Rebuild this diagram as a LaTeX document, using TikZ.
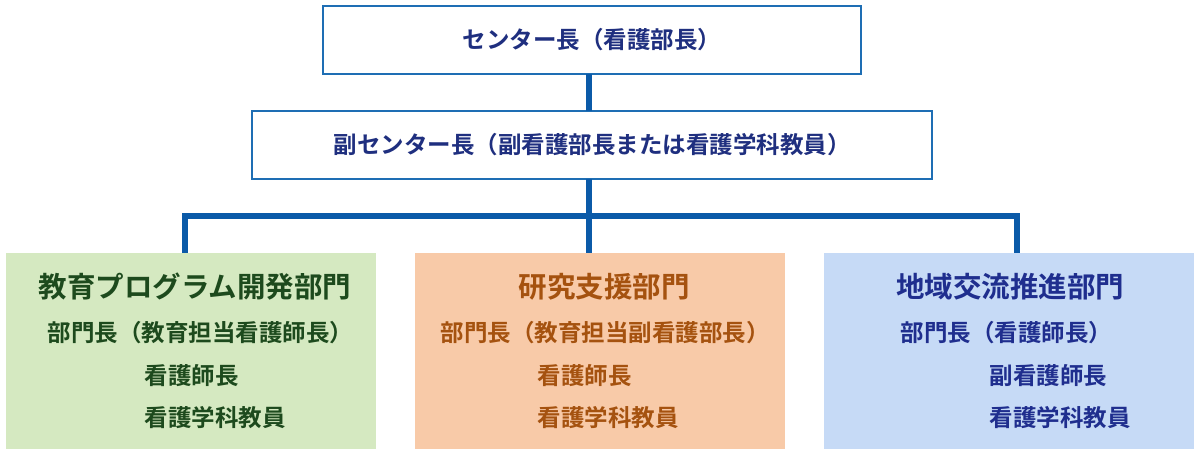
\documentclass[tikz,border=0pt]{standalone}
\usepackage{fontspec}
\setmainfont{Noto Sans CJK JP Bold}
\begin{document}
\begin{tikzpicture}[x=1pt,y=-1pt,
 hbox/.style={draw=boxblue,line width=2.2pt,fill=white},
 conn/.style={draw=lineblue,line width=6pt},
 ttl/.style={font=\fontsize{28.5}{32}\selectfont},
 ln/.style={font=\fontsize{23.5}{26}\selectfont,anchor=west}]
\definecolor{boxblue}{HTML}{1E6EB4}
\definecolor{lineblue}{HTML}{0B5AA8}
\definecolor{navy}{HTML}{1F2F7F}
\definecolor{pg}{HTML}{D5E9C1}\definecolor{tg}{HTML}{1D4A1D}
\definecolor{po}{HTML}{F8CAA8}\definecolor{to}{HTML}{A5520F}
\definecolor{pb}{HTML}{C6DAF6}\definecolor{tb}{HTML}{1F2E8E}
\useasboundingbox (0,0) rectangle (1200,453);
\coordinate (j1) at (185,216); \coordinate (j2) at (589,216); \coordinate (j3) at (1017,216);
\coordinate (b1) at (185,253); \coordinate (b2) at (589,253); \coordinate (b3) at (1017,253);
\node[hbox,minimum width=538,minimum height=68] (top) at (592,40) {};
\node[hbox,minimum width=680,minimum height=68] (sub) at (592,145) {};
\draw[conn] (589,74) -- (589,111);
\draw[conn] (589,179) -- (j2);
\draw[conn] ([xshift=-3pt]j1) -- ([xshift=3pt]j3);
\draw[conn] (j1) -- (b1); \draw[conn] (j2) -- (b2); \draw[conn] (j3) -- (b3);
\node[font=\fontsize{23.5}{26}\selectfont,text=navy] (tt) at (top) {センター長（看護部長）};
\node[font=\fontsize{23.5}{26}\selectfont,text=navy] (st) at (sub) {副センター長（副看護部長または看護学科教員）};
\fill[pg] (6,253) rectangle (376,449);
\fill[po] (415,253) rectangle (785,449);
\fill[pb] (824,253) rectangle (1194,449);
\node[ttl,text=tg] (g0) at (195,287) {教育プログラム開発部門};
\node[ln,text=tg] (g1) at (44,333) {部門長（教育担当看護師長）};
\node[ln,text=tg] (g2) at (141,376) {看護師長};
\node[ln,text=tg] (g3) at (141,418) {看護学科教員};
\node[ttl,text=to] (o0) at (604,287) {研究支援部門};
\node[ln,text=to] (o1) at (437,333) {部門長（教育担当副看護部長）};
\node[ln,text=to] (o2) at (534,376) {看護師長};
\node[ln,text=to] (o3) at (534,418) {看護学科教員};
\node[ttl,text=tb] (l0) at (1010,287) {地域交流推進部門};
\node[ln,text=tb] (l1) at (897,333) {部門長（看護師長）};
\node[ln,text=tb] (l2) at (986,376) {副看護師長};
\node[ln,text=tb] (l3) at (986,418) {看護学科教員};
\end{tikzpicture}
\end{document}
